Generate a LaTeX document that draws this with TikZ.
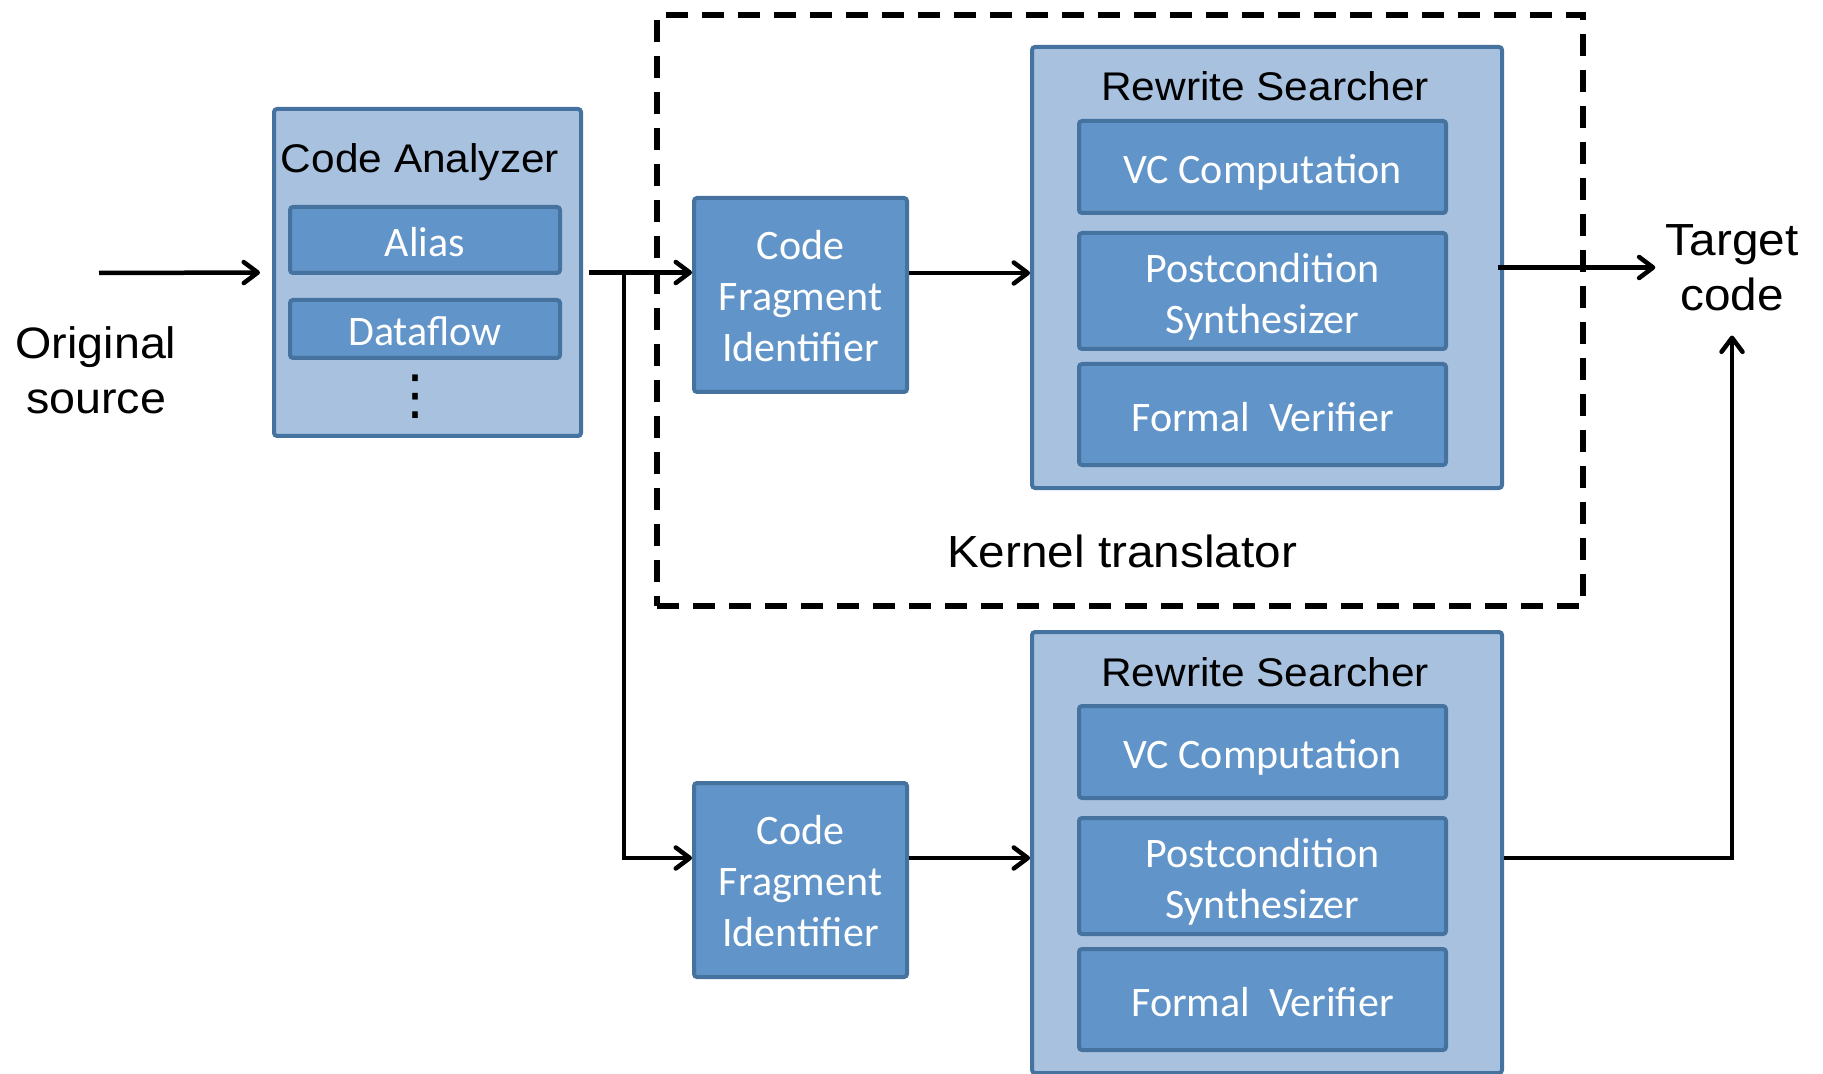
\documentclass[tikz,border=0pt]{standalone}
\usepackage{fontspec}
\setmainfont{Liberation Sans}
\newfontfamily\labelfont{Liberation Sans}[FakeStretch=1.06]
\newfontfamily\boxfont{Carlito}
\newfontfamily\symbolfont{DejaVu Sans}
\usetikzlibrary{arrows.meta}
\definecolor{panelfill}{RGB}{167,193,223}
\definecolor{blockfill}{RGB}{97,148,200}
\definecolor{blockline}{RGB}{70,114,160}
\tikzset{
  outer box/.style={draw=blockline, fill=panelfill, line width=2pt, rounded corners=1.5pt, inner sep=0pt},
  inner box/.style={draw=blockline, fill=blockfill, line width=2pt, rounded corners=1.5pt, inner sep=0pt,
    text=white, align=center, font=\boxfont\fontsize{21}{25.5}\selectfont},
  one line/.style={text height=18pt, text depth=1.5pt},
  box title/.style={font=\labelfont\fontsize{20}{24}\selectfont, anchor=base, inner sep=0pt},
  side label/.style={font=\labelfont\fontsize{22.5}{27.5}\selectfont, align=center, inner sep=0pt},
  kernel box/.style={draw, line width=2.6pt, dash pattern=on 11pt off 7pt},
  flow arrow/.style={-{Straight Barb[length=7pt, width=10.5pt, round]}, line width=2.25pt},
}

\begin{document}
\begin{tikzpicture}[x=0.5pt, y=-0.5pt]
  \useasboundingbox (0,0) rectangle (1823,1074);

  % Kernel translator frame
  \node[kernel box, minimum width=463pt, minimum height=295.5pt] (kernel) at (1120,310.5) {};
  \node[side label, anchor=base] (kernellabel) at (1122,567) {Kernel translator};

  % Input and analyzer
  \node[side label, font=\labelfont\fontsize{22}{27.5}\selectfont] (orig) at (96,370) {Original\\source};
  \coordinate (src) at (99,273);
  \node[outer box, minimum width=153.5pt, minimum height=163.5pt] (analyzer) at (427.5,272.5) {};
  \node[box title] (analyzertitle) at (420,173) {Code Analyzer};
  \node[inner box, one line, minimum width=135pt, minimum height=33pt] (alias) at (425,240) {Alias};
  \node[inner box, one line, minimum width=135pt, minimum height=29pt] (dataflow) at (425,329) {Dataflow};
  \node[inner sep=0pt, font=\symbolfont\fontsize{27}{27}\selectfont] (more) at (415,397) {⋮};

  % Output
  \node[side label] (target) at (1732,268) {Target\\code};

  % Two translation rows
  \foreach \i/\dy in {1/0, 2/585} {
    \coordinate (row\i) at (624,273+\dy);
    \node[inner box, minimum width=106.5pt, minimum height=97pt] (cfi\i) at (800.5,295+\dy)
      {\rule{0pt}{16pt}Code\\Fragment\\Identifier};
    \node[outer box, minimum width=235pt, minimum height=220.5pt] (rs\i) at (1267,267.5+\dy) {};
    \node[box title] (rstitle\i) at (1265,101+\dy) {Rewrite Searcher};
    \node[inner box, one line, minimum width=183.5pt, minimum height=46pt] (vc\i) at (1262.5,167+\dy)
      {VC Computation};
    \node[inner box, minimum width=183.5pt, minimum height=58pt] (ps\i) at (1262.5,291+\dy)
      {\rule{0pt}{20pt}Postcondition\\Synthesizer};
    \node[inner box, one line, minimum width=183.5pt, minimum height=50.5pt] (fv\i) at (1262.5,414.5+\dy)
      {Formal\ \ Verifier};
    \draw[flow arrow] (cfi\i.east |- row\i) -- (rs\i.west |- row\i);
  }

  % Connectors
  \draw[flow arrow, shorten >=6pt] (src) -- (analyzer.west);
  \draw[flow arrow, shorten <=3pt] (analyzer.east) -- (cfi1.west |- analyzer.east);
  \draw[flow arrow] (row1) |- (cfi2.west |- row2);
  \draw[flow arrow, shorten <=-3pt, shorten >=5pt] (rs1.east) -- (target.west |- rs1.east);
  \draw[flow arrow, shorten >=12pt] (rs2.east |- row2) -| (target.south);
\end{tikzpicture}
\end{document}
